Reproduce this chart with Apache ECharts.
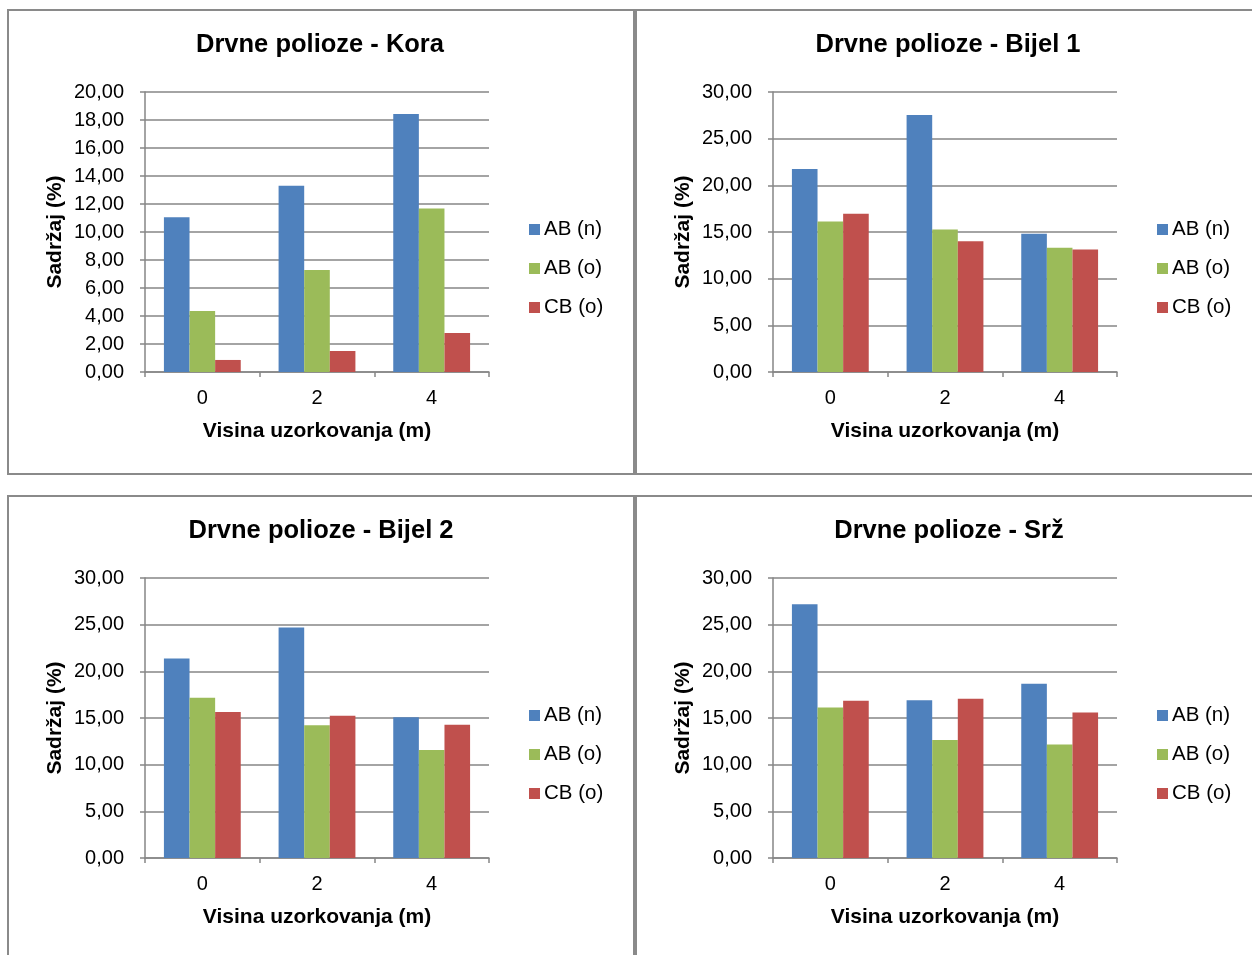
<!DOCTYPE html>
<html>
<head>
<meta charset="utf-8">
<script src="https://cdn.jsdelivr.net/npm/echarts@6/dist/echarts.min.js"></script>
<style>
html,body{margin:0;padding:0;background:#fff;}
#c{width:1252px;height:955px;}
</style>
</head>
<body>
<div id="c"></div>
<script>
// ---- Data ----
const categories = ['0', '2', '4'];
const seriesNames = ['AB (n)', 'AB (o)', 'CB (o)'];
const chartTitles = ['Drvne polioze - Kora', 'Drvne polioze - Bijel 1', 'Drvne polioze - Bijel 2', 'Drvne polioze - Srž'];
const xAxisTitle = 'Visina uzorkovanja (m)';
const yAxisTitle = 'Sadržaj (%)';
const yMaxValues = [20, 30, 30, 30];
const yIntervals = [2, 5, 5, 5];

const kora_ABn = [11.05, 13.30, 18.43];
const kora_ABo = [4.36, 7.29, 11.68];
const kora_CBo = [0.86, 1.50, 2.79];

const bijel1_ABn = [21.76, 27.53, 14.80];
const bijel1_ABo = [16.13, 15.27, 13.30];
const bijel1_CBo = [16.95, 14.01, 13.12];

const bijel2_ABn = [21.37, 24.69, 15.09];
const bijel2_ABo = [17.16, 14.23, 11.56];
const bijel2_CBo = [15.63, 15.23, 14.27];

const srz_ABn = [27.19, 16.91, 18.66];
const srz_ABo = [16.13, 12.63, 12.17];
const srz_CBo = [16.84, 17.05, 15.59];

const panelData = [
  [kora_ABn, kora_ABo, kora_CBo],
  [bijel1_ABn, bijel1_ABo, bijel1_CBo],
  [bijel2_ABn, bijel2_ABo, bijel2_CBo],
  [srz_ABn, srz_ABo, srz_CBo]
];

// ---- Layout / style ----
const FONT = '"Liberation Sans", Arial, sans-serif';
const colors = ['#4F81BD', '#9BBB59', '#C0504D'];
const gridColor = '#868686';
const grids = [
  {left: 145, top: 92, width: 344, height: 280},
  {left: 773, top: 92, width: 344, height: 280},
  {left: 145, top: 578, width: 344, height: 280},
  {left: 773, top: 578, width: 344, height: 280}
];
const titleCenters = [[320, 32], [948, 32], [321, 518], [949, 518]];
const legendPos = [[529, 219], [1157, 219], [529, 705], [1157, 705]];

const fmt = v => v.toFixed(2).replace('.', ',');

const option = {
  backgroundColor: '#fff',
  animation: false,
  color: colors,
  textStyle: {fontFamily: FONT},
  title: chartTitles.map((t, i) => ({
    text: t,
    left: titleCenters[i][0] - 5,
    top: titleCenters[i][1] - 5,
    textAlign: 'center',
    textStyle: {fontFamily: FONT, fontWeight: 'bold', fontSize: 25.5, color: '#000'}
  })),
  legend: legendPos.map((p, i) => ({
    orient: 'vertical',
    left: p[0],
    top: p[1],
    padding: 0,
    itemWidth: 11,
    itemHeight: 11,
    itemGap: 18,
    icon: 'rect',
    data: seriesNames,
    textStyle: {fontFamily: FONT, fontSize: 20.5, color: '#000', padding: [0, 0, 0, -1]}
  })),
  grid: grids.map(g => Object.assign({containLabel: false}, g)),
  xAxis: grids.map((g, i) => ({
    type: 'category',
    gridIndex: i,
    data: categories,
    name: xAxisTitle,
    nameLocation: 'middle',
    nameGap: 49,
    nameTextStyle: {fontFamily: FONT, fontWeight: 'bold', fontSize: 21, color: '#000'},
    axisLine: {lineStyle: {color: gridColor, width: 1.5}},
    axisTick: {show: true, inside: false, length: 5, alignWithLabel: false, lineStyle: {color: gridColor, width: 1.5}},
    axisLabel: {fontFamily: FONT, fontSize: 20, color: '#000', margin: 16}
  })),
  yAxis: grids.map((g, i) => ({
    type: 'value',
    gridIndex: i,
    min: 0,
    max: yMaxValues[i],
    interval: yIntervals[i],
    name: yAxisTitle,
    nameLocation: 'middle',
    nameRotate: 90,
    nameGap: 79,
    nameTextStyle: {fontFamily: FONT, fontWeight: 'bold', fontSize: 21, color: '#000'},
    axisLine: {show: true, lineStyle: {color: gridColor, width: 1.5}},
    axisTick: {show: true, inside: false, length: 5, lineStyle: {color: gridColor, width: 1.5}},
    splitLine: {show: true, lineStyle: {color: gridColor, width: 1.5}},
    axisLabel: {fontFamily: FONT, fontSize: 20, color: '#000', margin: 21, formatter: fmt}
  })),
  series: [],
  graphic: [
    {type: 'rect', shape: {x: 8, y: 10, width: 626, height: 464}, style: {fill: 'none', stroke: '#8a8a8a', lineWidth: 2}, silent: true, z: 0},
    {type: 'rect', shape: {x: 636, y: 10, width: 700, height: 464}, style: {fill: 'none', stroke: '#8a8a8a', lineWidth: 2}, silent: true, z: 0},
    {type: 'rect', shape: {x: 8, y: 496, width: 626, height: 560}, style: {fill: 'none', stroke: '#8a8a8a', lineWidth: 2}, silent: true, z: 0},
    {type: 'rect', shape: {x: 636, y: 496, width: 700, height: 560}, style: {fill: 'none', stroke: '#8a8a8a', lineWidth: 2}, silent: true, z: 0}
  ]
};

panelData.forEach((sets, i) => {
  sets.forEach((vals, s) => {
    option.series.push({
      type: 'bar',
      name: seriesNames[s],
      xAxisIndex: i,
      yAxisIndex: i,
      data: vals,
      barGap: '0%',
      barCategoryGap: '33%',
      itemStyle: {color: colors[s]}
    });
  });
});

const chart = echarts.init(document.getElementById('c'), null, {renderer: 'canvas'});
chart.setOption(option);
</script>
</body>
</html>
